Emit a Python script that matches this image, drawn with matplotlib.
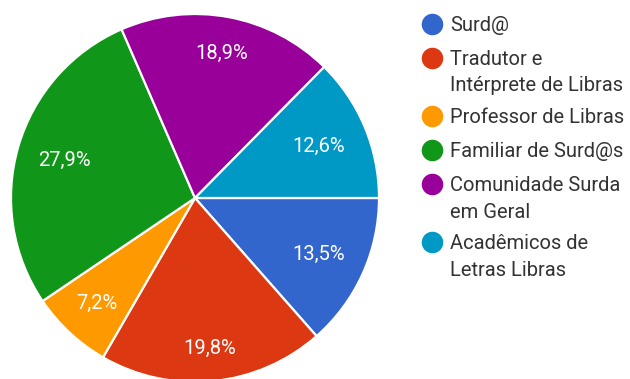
import numpy as np
import matplotlib.pyplot as plt

plt.rcParams['font.family'] = ['Roboto', 'DejaVu Sans']

categories = [
    "Surd@",
    "Tradutor e\nIntérprete de Libras",
    "Professor de Libras",
    "Familiar de Surd@s",
    "Comunidade Surda\nem Geral",
    "Acadêmicos de\nLetras Libras",
]
shares = [13.5, 19.8, 7.2, 27.9, 18.9, 12.6]
colors = ["#3366cc", "#dc3912", "#ff9900", "#109618", "#990099", "#0099c6"]

W, H = 630, 379
fig = plt.figure(figsize=(W / 100, H / 100), dpi=100)

# pie: centre (195, 198) px from top-left, radius 184 px
cx, cy, r = 195, 198, 184
ax = fig.add_axes([(cx - r) / W, (H - cy - r) / H, 2 * r / W, 2 * r / H])
wedges, texts, autotexts = ax.pie(
    shares,
    colors=colors,
    startangle=0,
    counterclock=False,
    radius=1,
    autopct=lambda p: f"{p:.1f}%".replace(".", ","),
    pctdistance=0.77,
    wedgeprops=dict(edgecolor="white", linewidth=1.6),
    textprops=dict(color="white", fontsize=14.5),
)
# radial placement of each percentage label
label_dist = [0.74, 0.82, 0.78, 0.74, 0.80, 0.73]
for w, t, d in zip(wedges, autotexts, label_dist):
    ang = np.deg2rad((w.theta1 + w.theta2) / 2)
    t.set_position((d * np.cos(ang), d * np.sin(ang)))
ax.set_xlim(-1, 1)
ax.set_ylim(-1, 1)
ax.set_axis_off()

# legend drawn in pixel coordinates on an overlay axes
lax = fig.add_axes([0, 0, 1, 1])
lax.set_xlim(0, W)
lax.set_ylim(H, 0)
lax.set_axis_off()

font_pt = 14.5
cap_half = font_pt * 100 / 72 * 0.711 / 2
row_y = [24, 57.5, 116, 150, 184, 242]
line_step = 26.5
for name, col, y in zip(categories, colors, row_y):
    lax.plot([431.5], [y], marker="o", markersize=15.5, color=col,
             markeredgewidth=0, linestyle="none")
    for i, line in enumerate(name.split("\n")):
        lax.text(450, y + i * line_step + cap_half, line, fontsize=font_pt,
                 color="#333333", va="baseline", ha="left")

fig.savefig("out.png", dpi=100, facecolor="white")
